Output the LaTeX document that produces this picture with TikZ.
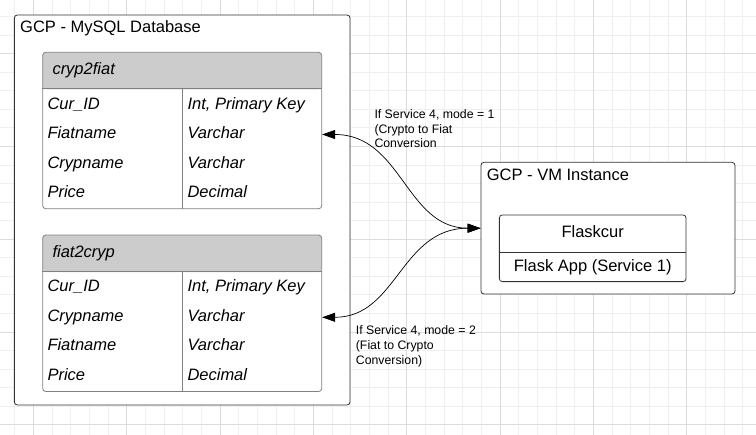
\documentclass[tikz,border=0pt]{standalone}
\usepackage{fontspec}
\setmainfont{Liberation Sans}
\usetikzlibrary{arrows.meta}
\definecolor{gridminor}{HTML}{EFEFEF}
\definecolor{gridmajor}{HTML}{DCDCDC}
\definecolor{headfill}{HTML}{CCCCCC}
\begin{document}
\begin{tikzpicture}[x=1pt,y=-1pt,
  box/.style={draw=black!80, fill=white, rounded corners=3pt, line width=0.8pt, inner sep=0pt},
  tbl/.style={draw=black!50, fill=white, rounded corners=3pt, line width=0.8pt, inner sep=0pt,
    minimum width=279pt, minimum height=156.4pt,
    path picture={\fill[headfill] (path picture bounding box.north west) rectangle ([yshift=-37pt]path picture bounding box.north east);}},
  rule/.style={draw=black!50, line width=0.8pt},
  cell/.style={anchor=base west, inner sep=0pt, font=\fontsize{16.5}{20}\selectfont\itshape},
  title/.style={anchor=base west, inner sep=0pt, font=\fontsize{16.5}{20}\selectfont},
  note/.style={anchor=north west, inner sep=0pt, align=left, font=\fontsize{12.3}{14.8}\selectfont},
  link/.style={{Triangle[length=13pt,width=9pt]}-{Triangle[length=13pt,width=9pt]}, line width=0.7pt}]
\useasboundingbox (0,0) rectangle (756,435);
\begin{scope}
\clip (0,0) rectangle (756,435);
\foreach \i in {-1,...,39} \draw[gridminor, line width=0.8pt] (33.3+18.67*\i,0) -- (33.3+18.67*\i,435);
\foreach \i in {-2,...,21} \draw[gridminor, line width=0.8pt] (0,53.7+18.55*\i) -- (756,53.7+18.55*\i);
\foreach \i in {0,...,7} \draw[gridmajor, line width=0.8pt] (33.3+93.33*\i,0) -- (33.3+93.33*\i,435);
\foreach \i in {-1,...,4} \draw[gridmajor, line width=0.8pt] (0,53.7+92.75*\i) -- (756,53.7+92.75*\i);
\end{scope}
\node[box, minimum width=335.7pt, minimum height=390pt] (db) at (182.2,210) {};
\node[title] (db-title) at (20,33) {GCP - MySQL Database};
\node[tbl] (c2f) at (182.2,130.5) {};
\draw[rule] ([yshift=-37pt]c2f.north west) -- ([yshift=-37pt]c2f.north east);
\draw[rule] ([yshift=-37pt]c2f.north) -- (c2f.south);
\node[cell] (c2f-name) at (52.3,74.7) {cryp2fiat};
\foreach \f/\t [count=\k] in {Cur\_ID/{Int, Primary Key},Fiatname/Varchar,Crypname/Varchar,Price/Decimal}{
  \node[cell] (c2f-f\k) at (47.3,79.9+29.4*\k) {\f};
  \node[cell] (c2f-t\k) at (187.3,79.9+29.4*\k) {\t};
}
\node[tbl] (f2c) at (182.2,313.3) {};
\draw[rule] ([yshift=-37pt]f2c.north west) -- ([yshift=-37pt]f2c.north east);
\draw[rule] ([yshift=-37pt]f2c.north) -- (f2c.south);
\node[cell] (f2c-name) at (52.3,257.3) {fiat2cryp};
\foreach \f/\t [count=\k] in {Cur\_ID/{Int, Primary Key},Crypname/Varchar,Fiatname/Varchar,Price/Decimal}{
  \node[cell] (f2c-f\k) at (47.3,262.6+29.4*\k) {\f};
  \node[cell] (f2c-t\k) at (187.3,262.6+29.4*\k) {\t};
}
\node[box, minimum width=254pt, minimum height=131.7pt] (vm) at (608,228.2) {};
\node[title] (vm-title) at (486.7,180.7) {GCP - VM Instance};
\node[box, minimum width=186.7pt, minimum height=66.7pt] (flask) at (592.7,248.3) {};
\draw[box] ([yshift=-4pt]flask.west) -- ([yshift=-4pt]flask.east);
\node[title, anchor=base] (flask-name) at (592.7,237.3) {Flaskcur};
\node[title, anchor=base] (flask-app) at (592.7,271.7) {Flask App (Service 1)};
\draw[link] ([yshift=-4pt]c2f.east) .. controls +(80,0) and +(-75,0) .. (vm.west);
\draw[link] ([yshift=-4pt]f2c.east) .. controls +(75,0) and +(-80,0) .. (vm.west);
\node[note] (mode1) at (374.3,109.2) {If Service 4, mode = 1\\(Crypto to Fiat\\Conversion};
\node[note] (mode2) at (355.7,325.3) {If Service 4, mode = 2\\(Fiat to Crypto\\Conversion)};
\end{tikzpicture}
\end{document}
